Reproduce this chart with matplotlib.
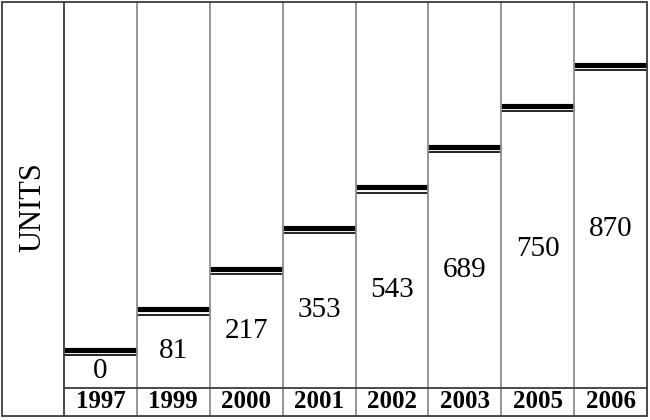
import matplotlib.pyplot as plt
from matplotlib.patches import Rectangle

years = ['1997', '1999', '2000', '2001', '2002', '2003', '2005', '2006']
units = [0, 81, 217, 353, 543, 689, 750, 870]
steps = [0, 1, 2, 3, 4, 5, 6, 7]   # the marker line climbs one step per column

plt.rcParams['font.family'] = ['Liberation Serif', 'DejaVu Serif']

# layout in pixels
left, right, top, bottom = 2, 647, 1.5, 416
col0 = 64
colw = (right - col0) / len(years)
row_y = 387.5          # line above the year row
base_y = 350           # thick line of the first column
step_h = 40.7

fig = plt.figure(figsize=(6.5, 4.2), dpi=100)
ax = fig.add_axes([0, 0, 1, 1])
ax.set_xlim(0, 650)
ax.set_ylim(420, 0)
ax.axis('off')

ax.add_patch(Rectangle((left, top), right - left, bottom - top, fill=False,
                       ec='#3c3c3c', lw=1.3, zorder=3))
ax.vlines(col0, top, bottom, color='#3c3c3c', lw=1.3, zorder=3)
ax.hlines(row_y, col0, right, color='#3c3c3c', lw=1.3, zorder=3)

for i, (yr, val, s) in enumerate(zip(years, units, steps)):
    x0 = col0 + i * colw
    x1 = x0 + colw
    xc = (x0 + x1) / 2
    if i > 0:
        ax.vlines(x0, top, bottom, color='#8c8c8c', lw=1.3, zorder=2)
    y = base_y - s * step_h
    ax.hlines(y, x0, x1, color='black', lw=3.7, zorder=1)
    ax.hlines(y + 5.4, x0, x1, color='black', lw=1.2, zorder=1)
    ax.text(xc, (y + 5.4 + row_y) / 2, str(val), ha='center', va='center',
            fontsize=21)
    ax.text(xc, 402, yr, ha='center', va='center', fontsize=18,
            fontweight='bold')

ax.text(33, 207, 'UNITS', rotation=90, ha='center', va='center', fontsize=22)

fig.savefig('out.png', dpi=100)
